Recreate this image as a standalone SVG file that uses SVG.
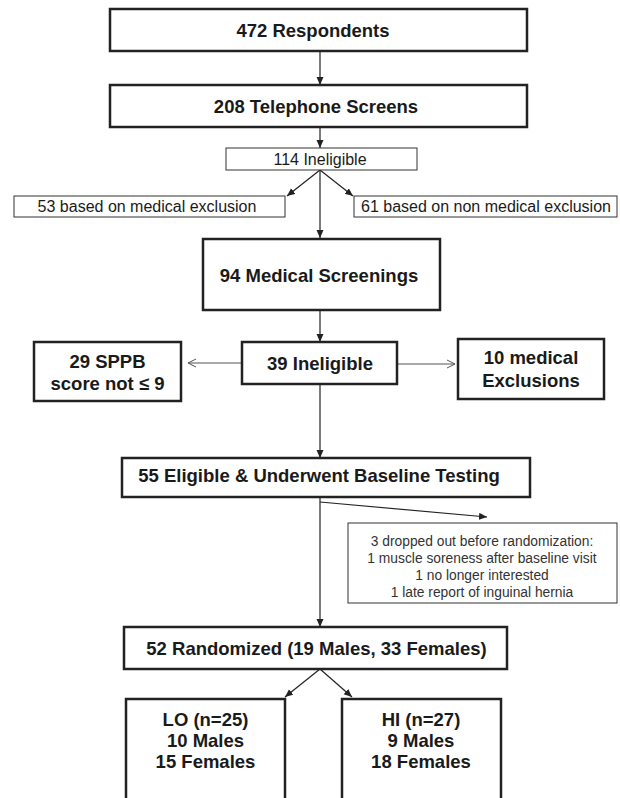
<svg xmlns="http://www.w3.org/2000/svg" width="620" height="798" viewBox="0 0 620 798">
<defs>
<style>
.big{fill:#fff;stroke:#222;stroke-width:2.5}
.thin{fill:#fff;stroke:#333;stroke-width:1}
.bt{font-family:"Liberation Sans",Arial,sans-serif;font-weight:bold;font-size:18.5px;fill:#1a1a1a;text-anchor:middle}
.rt{font-family:"Liberation Sans",Arial,sans-serif;font-size:16px;fill:#1a1a1a;text-anchor:middle}
.st{font-family:"Liberation Sans",Arial,sans-serif;font-size:13.8px;fill:#333;text-anchor:middle}
.ln{fill:none;stroke:#222;stroke-width:1.2}
.lg{fill:none;stroke:#555;stroke-width:1.2}
</style>
<marker id="af" markerUnits="userSpaceOnUse" markerWidth="9" markerHeight="8" refX="8" refY="3.5" orient="auto">
<path d="M0,0 L8,3.5 L0,7 z" fill="#222"/>
</marker>
<marker id="ao" markerUnits="userSpaceOnUse" markerWidth="10" markerHeight="10" refX="9" refY="5" orient="auto">
<path d="M1,1 L9,5 L1,9" fill="none" stroke="#555" stroke-width="1"/>
</marker>
</defs>
<rect width="620" height="798" fill="#fff"/>
<g id="connectors">
<line class="ln" x1="320" y1="51" x2="320" y2="85" marker-end="url(#af)"/>
<line class="ln" x1="320" y1="127" x2="320" y2="148" marker-end="url(#af)"/>
<line class="ln" x1="320" y1="170" x2="287" y2="196" marker-end="url(#af)"/>
<line class="ln" x1="320" y1="170" x2="353" y2="196" marker-end="url(#af)"/>
<line class="ln" x1="320" y1="170" x2="320" y2="238" marker-end="url(#af)"/>
<line class="ln" x1="320" y1="310" x2="320" y2="342" marker-end="url(#af)"/>
<line class="lg" x1="242" y1="363" x2="188" y2="363" marker-end="url(#ao)"/>
<line class="lg" x1="397" y1="364" x2="455" y2="364" marker-end="url(#ao)"/>
<line class="ln" x1="320" y1="384" x2="320" y2="458" marker-end="url(#af)"/>
<line class="ln" x1="320" y1="502" x2="487" y2="517" marker-end="url(#af)"/>
<line class="ln" x1="320" y1="497" x2="320" y2="627" marker-end="url(#af)"/>
<line class="ln" x1="320" y1="669" x2="285" y2="697" marker-end="url(#af)"/>
<line class="ln" x1="320" y1="669" x2="352" y2="697" marker-end="url(#af)"/>
</g>
<g id="n1"><rect class="big" x="110" y="9" width="417" height="42"/><text class="bt" x="313" y="37" textLength="153" lengthAdjust="spacingAndGlyphs">472 Respondents</text></g>
<g id="n2"><rect class="big" x="110" y="85" width="417" height="42"/><text class="bt" x="316" y="113">208 Telephone Screens</text></g>
<g id="n3"><rect class="thin" x="226" y="148" width="191" height="22"/><text class="rt" x="320" y="165">114 Ineligible</text></g>
<g id="n4"><rect class="thin" x="14" y="196" width="271" height="21"/><text class="rt" x="147" y="212">53 based on medical exclusion</text></g>
<g id="n5"><rect class="thin" x="354" y="196" width="263" height="21"/><text class="rt" x="486" y="212">61 based on non medical exclusion</text></g>
<g id="n6"><rect class="big" x="203" y="239" width="237" height="71"/><text class="bt" x="319" y="282">94 Medical Screenings</text></g>
<g id="n7"><rect class="big" x="34" y="342" width="147" height="59"/><text class="bt" x="107.5" y="368">29 SPPB</text><text class="bt" x="107.5" y="390">score not ≤ 9</text></g>
<g id="n8"><rect class="big" x="242" y="342" width="155" height="42"/><text class="bt" x="320" y="370">39 Ineligible</text></g>
<g id="n9"><rect class="big" x="458" y="339" width="146" height="60"/><text class="bt" x="531" y="364">10 medical</text><text class="bt" x="531" y="387">Exclusions</text></g>
<g id="n10"><rect class="big" x="122" y="458" width="408" height="39"/><text class="bt" x="319" y="482">55 Eligible &amp; Underwent Baseline Testing</text></g>
<g id="n11"><rect class="thin" x="348" y="523" width="269" height="80"/><text class="st" x="482" y="546">3 dropped out before randomization:</text><text class="st" x="482" y="563">1 muscle soreness after baseline visit</text><text class="st" x="482" y="580">1 no longer interested</text><text class="st" x="482" y="597">1 late report of inguinal hernia</text></g>
<g id="n12"><rect class="big" x="124" y="627" width="383" height="42"/><text class="bt" x="316.5" y="655">52 Randomized (19 Males, 33 Females)</text></g>
<g id="n13"><rect class="big" x="126" y="699" width="159" height="120"/><text class="bt" x="205.5" y="726">LO (n=25)</text><text class="bt" x="205.5" y="747">10 Males</text><text class="bt" x="205.5" y="768">15 Females</text></g>
<g id="n14"><rect class="big" x="342" y="699" width="159" height="120"/><text class="bt" x="421" y="726">HI (n=27)</text><text class="bt" x="421" y="747">9 Males</text><text class="bt" x="421" y="768">18 Females</text></g>
</svg>
